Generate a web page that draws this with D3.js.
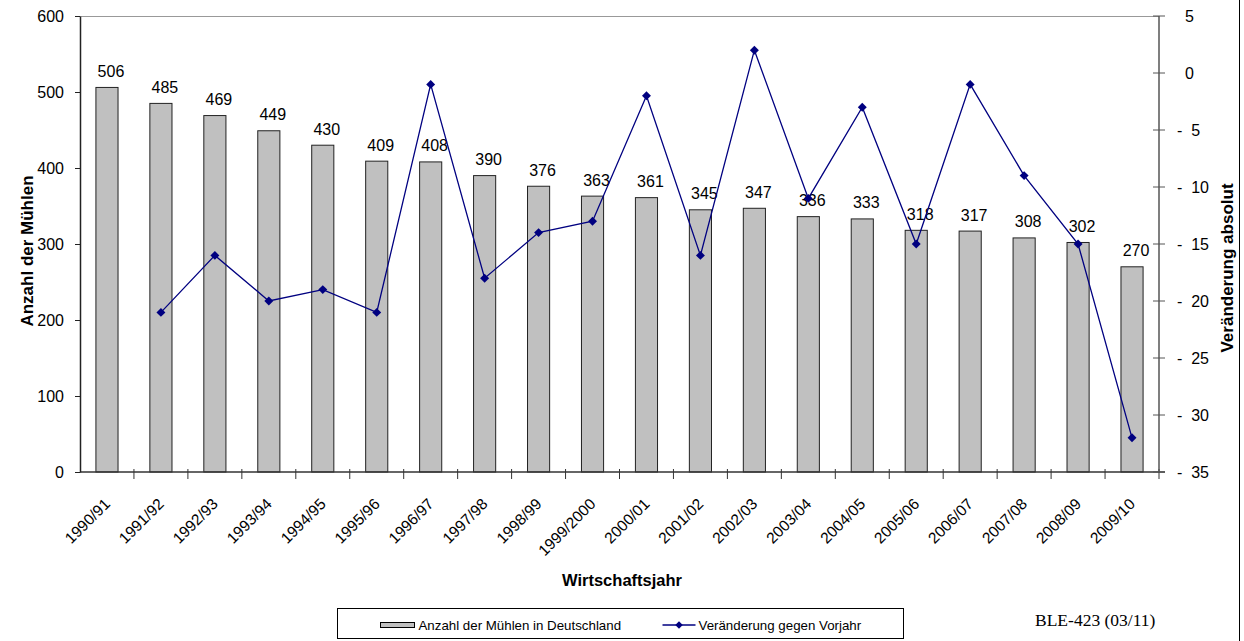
<!DOCTYPE html>
<html>
<head>
<meta charset="utf-8">
<script src="https://cdn.jsdelivr.net/npm/d3@7"></script>
<style>
  body { margin: 0; background: #fff; }
  svg { display: block; font-family: Arial, "Liberation Sans", sans-serif; }
  .rlabel { white-space: pre; }
</style>
</head>
<body>
<div id="chart"></div>
<script>
const years = ["1990/91", "1991/92", "1992/93", "1993/94", "1994/95", "1995/96", "1996/97",
    "1997/98", "1998/99", "1999/2000", "2000/01", "2001/02", "2002/03", "2003/04", "2004/05",
    "2005/06", "2006/07", "2007/08", "2008/09", "2009/10"];
const mills = [506, 485, 469, 449, 430, 409, 408, 390, 376, 363, 361, 345, 347, 336, 333, 318, 317, 308, 302, 270];
const change = [null, -21, -16, -20, -19, -21, -1, -18, -14, -13, -2, -16, 2, -11, -3, -15, -1, -9, -15, -32];
const leftTicks = [0, 100, 200, 300, 400, 500, 600];
const rightTicks = [5, 0, -5, -10, -15, -20, -25, -30, -35];

const W = 1244, H = 641;
const margin = { top: 16, right: 85, bottom: 169, left: 80 };
const width = W - margin.left - margin.right;
const height = H - margin.top - margin.bottom;

const svg = d3.select("#chart").append("svg")
    .attr("width", W)
    .attr("height", H);

// outer frame (only right edge falls inside the picture)
svg.append("rect")
    .attr("x", -5).attr("y", -5)
    .attr("width", 1244.5).attr("height", H + 10)
    .attr("fill", "none").attr("stroke", "#000").attr("stroke-width", 1);

const g = svg.append("g")
    .attr("transform", `translate(${margin.left},${margin.top})`);

// Scales
const x = d3.scaleBand().domain(years).range([0, width]);
const y = d3.scaleLinear().domain([0, 600]).range([height, 0]);
const y2 = d3.scaleLinear().domain([-35, 5]).range([height, 0]);
const cx = d => x(d) + x.bandwidth() / 2;

// plot area top border
g.append("line")
    .attr("x1", 0).attr("x2", width).attr("y1", 0.5).attr("y2", 0.5)
    .attr("stroke", "#999").attr("stroke-width", 1.2);

// Bars
const barW = x.bandwidth() * 0.41;
g.selectAll(".bar")
    .data(mills)
    .join("rect")
    .attr("class", "bar")
    .attr("x", (d, i) => cx(years[i]) - barW / 2)
    .attr("y", d => y(d))
    .attr("width", barW)
    .attr("height", d => height - y(d))
    .attr("fill", "#c0c0c0")
    .attr("stroke", "#222")
    .attr("stroke-width", 1);

// Bar labels
g.selectAll(".blabel")
    .data(mills)
    .join("text")
    .attr("class", "blabel")
    .attr("x", (d, i) => cx(years[i]) + 4)
    .attr("y", d => y(d) - 10.5)
    .attr("text-anchor", "middle")
    .attr("font-size", 16)
    .attr("fill", "#000")
    .text(d => d);

// X axis line + ticks at band boundaries
g.append("line")
    .attr("x1", 0).attr("x2", width + 6).attr("y1", height).attr("y2", height)
    .attr("stroke", "#333").attr("stroke-width", 1.5);
g.selectAll(".xtick")
    .data(years.slice(1).concat([null]))
    .join("line")
    .attr("class", "xtick")
    .attr("x1", d => d ? x(d) : width)
    .attr("x2", d => d ? x(d) : width)
    .attr("y1", height - 3).attr("y2", height + 7)
    .attr("stroke", "#333");

// X labels
g.selectAll(".xlabel")
    .data(years)
    .join("text")
    .attr("class", "xlabel")
    .attr("text-anchor", "end")
    .attr("font-size", 15.5)
    .attr("transform", d => `translate(${cx(d) + 4},${height + 33}) rotate(-45)`)
    .text(d => d);

// Left axis
const yAxis = g.append("g")
    .call(d3.axisLeft(y).tickValues(leftTicks).tickSize(5).tickPadding(11).tickSizeOuter(0));
yAxis.select(".domain").attr("stroke", "#222").attr("stroke-width", 1.5);
yAxis.selectAll("line").attr("stroke", "#222");
yAxis.selectAll("text").attr("font-size", 16).attr("fill", "#000");

// Right axis
const ry = g.append("g").attr("transform", `translate(${width},0)`);
ry.append("line")
    .attr("y1", 0).attr("y2", height)
    .attr("stroke", "#555").attr("stroke-width", 1.5);
ry.selectAll(".rtick")
    .data(rightTicks)
    .join("line")
    .attr("class", "rtick")
    .attr("x1", -6).attr("x2", 6)
    .attr("y1", d => y2(d)).attr("y2", d => y2(d))
    .attr("stroke", "#555");
ry.selectAll(".rlabel")
    .data(rightTicks)
    .join("text")
    .attr("class", "rlabel")
    .attr("x", d => d < 0 ? 18 : 26)
    .attr("y", d => y2(d) + 5.5)
    .attr("font-size", 16)
    .attr("fill", "#000")
    .text(d => d < 0 ? "-  " + Math.abs(d) : String(d));

// Line series
const pts = change.map((v, i) => ({ year: years[i], v })).filter(d => d.v !== null);
const line = d3.line()
    .x(d => cx(d.year))
    .y(d => y2(d.v));
g.append("path")
    .datum(pts)
    .attr("fill", "none")
    .attr("stroke", "#000080")
    .attr("stroke-width", 1.3)
    .attr("d", line);
g.selectAll(".marker")
    .data(pts)
    .join("path")
    .attr("class", "marker")
    .attr("d", d3.symbol().type(d3.symbolSquare).size(40))
    .attr("transform", d => `translate(${cx(d.year)},${y2(d.v)}) rotate(45)`)
    .attr("fill", "#000080");

// Axis titles
svg.append("text")
    .attr("transform", `translate(33,251) rotate(-90)`)
    .attr("text-anchor", "middle")
    .attr("font-weight", "bold")
    .attr("font-size", 17)
    .text("Anzahl der Mühlen");
svg.append("text")
    .attr("transform", `translate(1233,268) rotate(-90)`)
    .attr("text-anchor", "middle")
    .attr("font-weight", "bold")
    .attr("font-size", 17)
    .text("Veränderung absolut");
svg.append("text")
    .attr("x", 622).attr("y", 586)
    .attr("text-anchor", "middle")
    .attr("font-weight", "bold")
    .attr("font-size", 16.5)
    .text("Wirtschaftsjahr");

// Legend
const legend = svg.append("g").attr("transform", "translate(337.5,608.5)");
legend.append("rect")
    .attr("width", 566).attr("height", 30)
    .attr("fill", "#fff").attr("stroke", "#000").attr("stroke-width", 1);
legend.append("rect")
    .attr("x", 43).attr("y", 14).attr("width", 34).attr("height", 5)
    .attr("fill", "#c0c0c0").attr("stroke", "#000");
legend.append("text")
    .attr("x", 81).attr("y", 21)
    .attr("font-size", 13.3)
    .text("Anzahl der Mühlen in Deutschland");
legend.append("line")
    .attr("x1", 325).attr("x2", 358).attr("y1", 16.5).attr("y2", 16.5)
    .attr("stroke", "#000080").attr("stroke-width", 1.3);
legend.append("path")
    .attr("transform", "translate(341.5,16.5) rotate(45)")
    .attr("d", d3.symbol().type(d3.symbolSquare).size(28))
    .attr("fill", "#000080");
legend.append("text")
    .attr("x", 361).attr("y", 21)
    .attr("font-size", 13.3)
    .text("Veränderung gegen Vorjahr");

svg.append("text")
    .attr("x", 1035).attr("y", 626)
    .attr("font-family", "'Liberation Serif', 'Times New Roman', serif")
    .attr("font-size", 17.5)
    .text("BLE-423 (03/11)");
</script>
</body>
</html>
